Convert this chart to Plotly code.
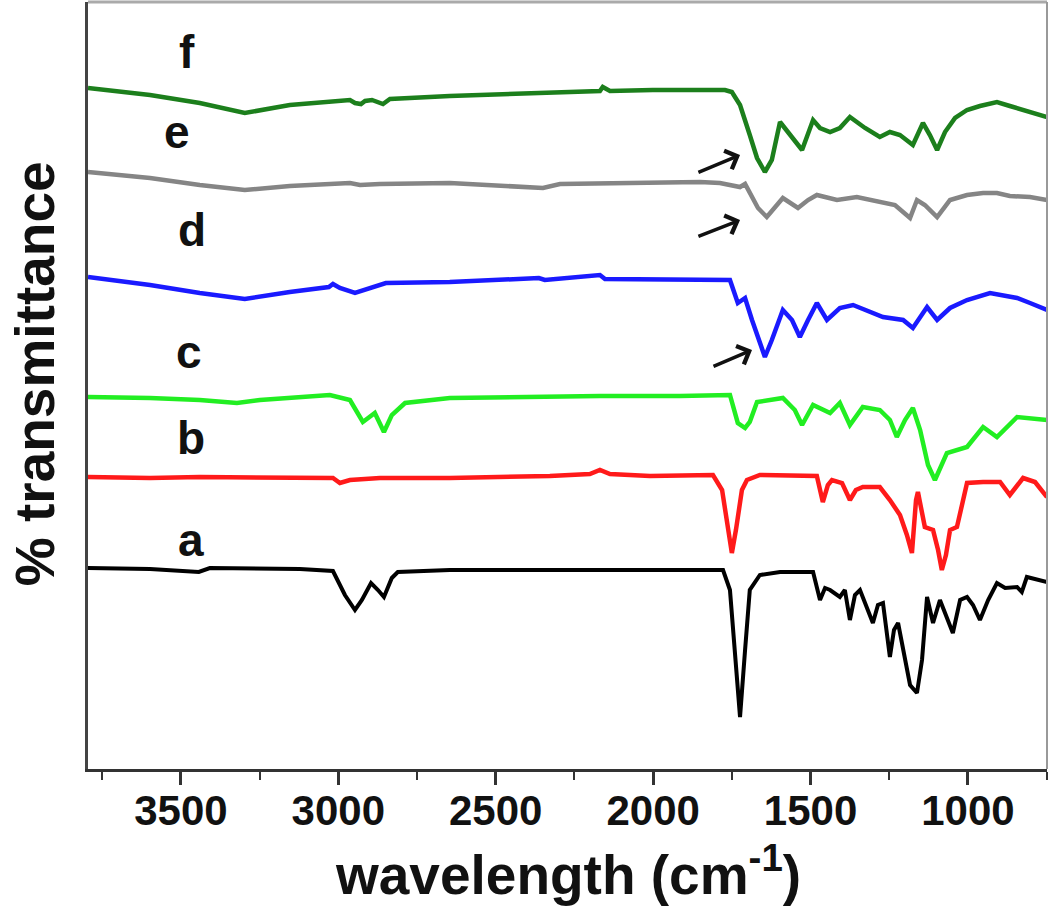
import plotly.graph_objects as go

# ---- data (wavenumber in cm^-1, transmittance in arbitrary offset units) ----
wn_f = [3795,3598,3440,3297,3154,2963,2947,2928,2915,2893,2858,2836,2646,2487,2350,2169,2160,2137,2001,1851,
        1772,1750,1724,1693,1670,1645,1623,1597,1565,1527,1492,1470,1438,1407,1375,1327,1280,1248,1216,1175,
        1143,1121,1098,1073,1041,1003,962,908,867,844,803,749]
t_f = [682,675,667,657,665,670,667,666,669,670,666,671,674,676,677,679,683,679,680,680,
       680,678,665,635,612,598,610,648,635,620,650,642,638,642,653,642,633,638,635,625,
       647,635,620,638,652,660,664,668,664,662,658,653]

wn_e = [3795,3598,3440,3297,3154,2963,2931,2868,2646,2350,2296,2010,1851,1788,1750,1724,1708,1693,1667,1639,
        1613,1588,1540,1508,1480,1416,1353,1270,1232,1184,1162,1137,1098,1057,1003,952,908,867,803,749]
t_e = [598,592,585,580,584,587,585,586,587,582,586,587,588,587,585,583,586,578,562,553,
       562,572,562,570,575,570,573,567,565,552,570,565,553,570,575,577,577,574,573,570]

wn_d = [3795,3598,3440,3297,3154,3030,3017,2995,2947,2900,2849,2646,2363,2344,2169,2153,1915,1756,1731,1708,
        1686,1645,1623,1588,1559,1534,1508,1480,1448,1407,1365,1311,1270,1206,1175,1130,1098,1057,1003,930,
        844,803,749]
t_d = [493,485,477,471,478,483,486,482,477,482,487,488,492,490,495,491,490,490,467,472,
       450,413,430,460,450,433,450,467,450,462,465,458,453,450,442,463,450,462,470,477,
       472,467,460]

wn_c = [3795,3598,3440,3322,3249,3027,2963,2922,2884,2855,2830,2788,2646,2487,2169,1915,1756,1731,1708,1693,
        1670,1588,1550,1527,1492,1438,1407,1375,1334,1280,1248,1226,1200,1175,1152,1127,1105,1067,1003,952,
        908,844,749]
t_c = [373,372,370,367,370,375,370,348,357,338,355,367,372,373,374,374,375,347,342,348,
       368,372,360,345,365,357,367,345,363,360,350,333,350,362,340,305,290,317,323,343,
       333,353,350]

wn_b = [3795,3598,3440,3122,3017,2995,2963,2868,2646,2328,2201,2169,2137,2010,1810,1781,1762,1750,1737,1718,
        1702,1661,1480,1461,1445,1432,1400,1375,1356,1334,1280,1248,1216,1194,1178,1165,1159,1137,1111,1095,
        1083,1070,1057,1035,1019,1003,952,898,867,825,787,749]
t_b = [293,292,293,293,292,287,290,292,292,294,296,300,296,294,295,280,240,217,240,280,
       290,295,294,268,285,290,287,270,280,283,283,270,255,235,217,270,278,243,240,220,
       200,215,240,243,265,287,288,288,275,292,288,273]

wn_a = [3795,3598,3443,3408,3122,3017,2979,2947,2925,2896,2874,2855,2830,2811,2646,2487,2328,2169,2010,1851,
        1778,1756,1740,1724,1708,1693,1661,1597,1492,1470,1454,1438,1407,1391,1375,1359,1343,1324,1302,1286,
        1270,1248,1235,1222,1206,1184,1162,1146,1130,1111,1089,1070,1048,1025,1003,984,962,936,908,882,
        844,829,813,749]
t_a = [202,201,198,202,201,199,175,160,170,187,180,173,192,198,200,200,201,201,201,200,
       200,180,120,53,120,180,195,198,198,170,182,180,173,180,150,175,180,165,147,165,
       167,113,140,147,120,85,77,110,173,147,170,155,137,170,173,165,150,170,187,182,
       183,178,193,188]

series_names = ["a", "b", "c", "d", "e", "f"]
series_colors = ["#000000", "#ff1a1a", "#22ee22", "#1a1aff", "#858585", "#1c7f1c"]
series_x = [wn_a, wn_b, wn_c, wn_d, wn_e, wn_f]
series_y = [t_a, t_b, t_c, t_d, t_e, t_f]

# label anchor points (wavenumber, transmittance)
label_x = [3468, 3468, 3475, 3465, 3513, 3481]
label_y = [230, 332, 418, 540, 638, 718]

# arrows: (head_wn, head_t, tail_wn, tail_t)
arrows = [(1724, 615, 1861, 597), (1724, 550, 1861, 533), (1686, 420, 1813, 403)]

x_ticks = [3500, 3000, 2500, 2000, 1500, 1000]

FONT = "Liberation Sans, Arial, Helvetica, sans-serif"

fig = go.Figure()
for name, col, xs, ys in zip(series_names, series_colors, series_x, series_y):
    fig.add_trace(go.Scatter(x=xs, y=ys, mode="lines", name=name,
                             line=dict(color=col, width=4.5 if name != "a" else 4),
                             showlegend=False))

annotations = []
for name, lx, ly in zip(series_names, label_x, label_y):
    annotations.append(dict(x=lx, y=ly, xref="x", yref="y", text=name, showarrow=False,
                            font=dict(family=FONT, size=46, color="#111", weight="bold"),
                            xanchor="center", yanchor="middle"))
for hx, hy, tx, ty in arrows:
    annotations.append(dict(x=hx, y=hy, xref="x", yref="y", ax=tx, ay=ty, axref="x", ayref="y",
                            text="", showarrow=True, arrowhead=4, arrowsize=1.1, arrowwidth=3.5,
                            arrowcolor="#111"))
annotations.append(dict(x=0.5, y=-0.085, xref="paper", yref="paper",
                        text="wavelength (cm<sup>-1</sup>)", showarrow=False,
                        font=dict(family=FONT, size=55, color="#111", weight="bold"),
                        xanchor="center", yanchor="top"))
annotations.append(dict(x=-0.055, y=0.515, xref="paper", yref="paper",
                        text="% transmittance", showarrow=False, textangle=-90,
                        font=dict(family=FONT, size=55, color="#111", weight="bold"),
                        xanchor="center", yanchor="middle"))

fig.update_layout(
    width=1050, height=909,
    margin=dict(l=88, r=3, t=2, b=140),
    paper_bgcolor="white", plot_bgcolor="white",
    annotations=annotations,
    shapes=[
        dict(type="line", xref="paper", yref="paper", x0=0, x1=1, y0=1, y1=1,
             line=dict(color="#aaaaaa", width=3)),
        dict(type="line", xref="paper", yref="paper", x0=1, x1=1, y0=0, y1=1,
             line=dict(color="#999999", width=2)),
    ],
)
fig.update_xaxes(range=[3795, 749], tickvals=x_ticks, ticktext=[str(v) for v in x_ticks],
                 showgrid=False, zeroline=False, showline=True, linecolor="#333", linewidth=3,
                 ticks="outside", ticklen=13, tickwidth=3, tickcolor="#333",
                 ticklabelstandoff=-10,
                 minor=dict(dtick=250, tick0=1000, ticks="outside", ticklen=8, tickwidth=2, tickcolor="#333"),
                 tickfont=dict(family=FONT, size=42, color="#111", weight="bold"))
fig.update_yaxes(range=[1, 768], showgrid=False, zeroline=False, showline=True,
                 linecolor="#444", linewidth=3, showticklabels=False, ticks="")

fig.write_html("out.html", config={"displayModeBar": False},
               post_script="document.body.style.margin='0px';")
